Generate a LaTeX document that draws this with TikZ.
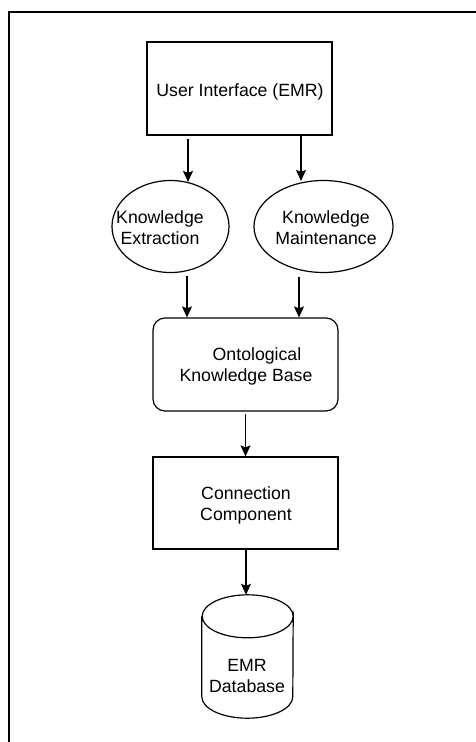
\documentclass[tikz,border=0pt]{standalone}
\usepackage{fontspec}
\setmainfont{Liberation Sans}
\usetikzlibrary{shapes.geometric,arrows.meta}
\begin{document}
\begin{tikzpicture}[x=1pt,y=-1pt,
  every node/.style={font=\fontsize{17.7}{21}\selectfont, align=center, inner sep=0pt},
  boxnode/.style={draw, line width=1.2pt, rectangle, minimum width=185pt, minimum height=93pt},
  roundbox/.style={boxnode, rounded corners=12pt},
  ellip/.style={draw, line width=1.2pt, ellipse, minimum height=92pt},
  arr/.style={line width=1.3pt, -{Stealth[length=11pt,width=10pt,inset=2pt]}},
  frameline/.style={line width=1.5pt}
]
\useasboundingbox (0,0) rectangle (476,742);
% frame (top and left edges only)
\coordinate (fa) at (9,742);
\coordinate (fb) at (9,12);
\coordinate (fc) at (476,12);
\draw[frameline] (fa) -- (fb) -- (fc);

\node[boxnode] (ui) at (239.5,88.5) {};
\node (uit) at (240,92) {User Interface (EMR)};

\node[ellip, minimum width=117pt] (ke) at (170.5,226.5) {};
\node (ket) at (160,228) {Knowledge\\Extraction};

\node[ellip, minimum width=139pt] (km) at (323.5,226.5) {};
\node (kmt) at (326,228) {Knowledge\\Maintenance};

\node[roundbox] (kb) at (245.5,364.5) {};
\node (kbt) at (246,366) {\hspace*{22pt}Ontological\\Knowledge Base};

\node[boxnode, minimum height=92pt] (cc) at (245.5,503) {};
\node (cct) at (246,505) {Connection\\Component};

\node[minimum width=91pt, minimum height=123pt] (db) at (247.5,656.5) {};
\draw[line width=1.2pt]
  ([yshift=-21.5pt]db.north west) -- ([yshift=21.5pt]db.south west)
  arc[start angle=180, end angle=360, x radius=45.5pt, y radius=21.5pt]
  -- ([yshift=-21.5pt]db.north east)
  arc[start angle=0, end angle=-180, x radius=45.5pt, y radius=21.5pt]
  arc[start angle=180, end angle=0, x radius=45.5pt, y radius=21.5pt];
\node (dbt) at (247,676) {EMR\\Database};

% connectors
\draw[arr] ([xshift=-51.5pt,yshift=-3pt]ui.south) -- ([xshift=17.5pt,yshift=-2pt]ke.north);
\draw[arr] ([xshift=61.5pt]ui.south) -- ([xshift=-22.5pt,yshift=-1pt]km.north);
\draw[arr] ([xshift=16.5pt,yshift=-3pt]ke.south) -- ([xshift=-58.5pt]kb.north);
\draw[arr] ([xshift=-24.5pt,yshift=-3.5pt]km.south) -- ([xshift=53.5pt]kb.north);
\draw[arr] ([yshift=-2pt]kb.south) -- (cc.north);
\draw[arr] ([xshift=0.5pt]cc.south) -- ([xshift=-1.5pt]db.north);
\end{tikzpicture}
\end{document}
